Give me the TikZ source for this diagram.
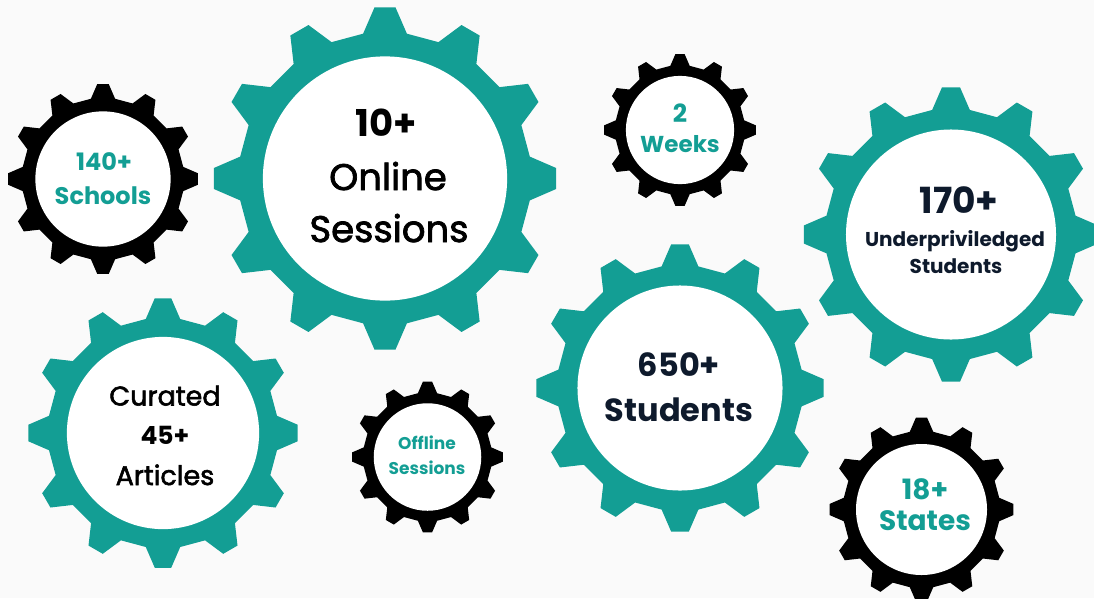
\documentclass[tikz,border=0pt]{standalone}
\usepackage{fontspec}
\setmainfont{Poppins}
\newfontfamily\medfont{Poppins}[FakeBold=2]
\definecolor{gteal}{HTML}{139E94}
\definecolor{gnavy}{HTML}{0E1A2C}
\definecolor{bgcol}{HTML}{FAFAFA}
\newcommand\drawgear[4]{%
  \begin{scope}[shift={(#1,#2)}]
    \pgfmathsetmacro\grt{#3}
    \pgfmathsetmacro\grr{0.854*#3}
    \pgfmathsetmacro\gri{0.712*#3}
    \fill[#4] (81.4:\grr) \foreach \i in {0,...,11} { -- ({90+30*\i-8.6}:\grr) -- ({90+30*\i-3.5}:\grt) -- ({90+30*\i+3.5}:\grt) -- ({90+30*\i+8.6}:\grr) } -- cycle;
    \fill[white] (0,0) circle[radius=\gri];
  \end{scope}}
\tikzset{
  lbl/.style={anchor=base, inner sep=0pt, align=center},
  tealbold/.style={lbl, text=gteal, font=\bfseries},
}
\begin{document}
\begin{tikzpicture}[x=1pt, y=-1pt]
\fill[bgcol] (0,0) rectangle (1094,598);
\useasboundingbox (0,0) rectangle (1094,598);
% gears
\drawgear{103}{179}{95}{black}
\drawgear{385}{178.5}{171.5}{gteal}
\drawgear{680}{130}{76}{black}
\drawgear{951}{234.5}{147.5}{gteal}
\drawgear{163}{433}{135}{gteal}
\drawgear{427.5}{457}{75.5}{black}
\drawgear{680}{388}{144}{gteal}
\drawgear{921.5}{509.5}{92}{black}
% texts
\node[tealbold, font=\bfseries\fontsize{24}{28}\selectfont] (t1a) at (104,170) {140+};
\node[tealbold, font=\bfseries\fontsize{24}{28}\selectfont] (t1b) at (103,204) {Schools};
\node[lbl, font=\bfseries\fontsize{37}{44}\selectfont] (t2a) at (386,136) {10+};
\node[lbl, font=\medfont\fontsize{37}{44}\selectfont] (t2b) at (388,190) {Online};
\node[lbl, font=\medfont\fontsize{37}{44}\selectfont] (t2c) at (389,242) {Sessions};
\node[tealbold, font=\bfseries\fontsize{25}{28}\selectfont] (t3a) at (680,122) {2};
\node[tealbold, font=\bfseries\fontsize{23}{28}\selectfont] (t3b) at (680,152) {Weeks};
\node[lbl, text=gnavy, font=\bfseries\fontsize{36}{40}\selectfont] (t4a) at (959,213) {170+};
\node[lbl, text=gnavy, font=\bfseries\fontsize{20}{24}\selectfont] (t4b) at (955,246.5) {Underpriviledged};
\node[lbl, text=gnavy, font=\bfseries\fontsize{20}{24}\selectfont] (t4c) at (956,273) {Students};
\node[lbl, font=\medfont\fontsize{27}{32}\selectfont] (t5a) at (165,405.5) {Curated};
\node[lbl, font=\bfseries\fontsize{25}{30}\selectfont] (t5b) at (165,444) {45+};
\node[lbl, font=\medfont\fontsize{27}{32}\selectfont] (t5c) at (165,485) {Articles};
\node[tealbold, font=\bfseries\fontsize{17}{20}\selectfont] (t6a) at (427,449) {Offline};
\node[tealbold, font=\bfseries\fontsize{17}{20}\selectfont] (t6b) at (427,474) {Sessions};
\node[lbl, text=gnavy, font=\bfseries\fontsize{32}{38}\selectfont] (t7a) at (679,376) {650+};
\node[lbl, text=gnavy, font=\bfseries\fontsize{32}{38}\selectfont] (t7b) at (679,421) {Students};
\node[tealbold, font=\bfseries\fontsize{28}{32}\selectfont] (t8a) at (925,499) {18+};
\node[tealbold, font=\bfseries\fontsize{28}{32}\selectfont] (t8b) at (925,530.5) {States};
\end{tikzpicture}
\end{document}
